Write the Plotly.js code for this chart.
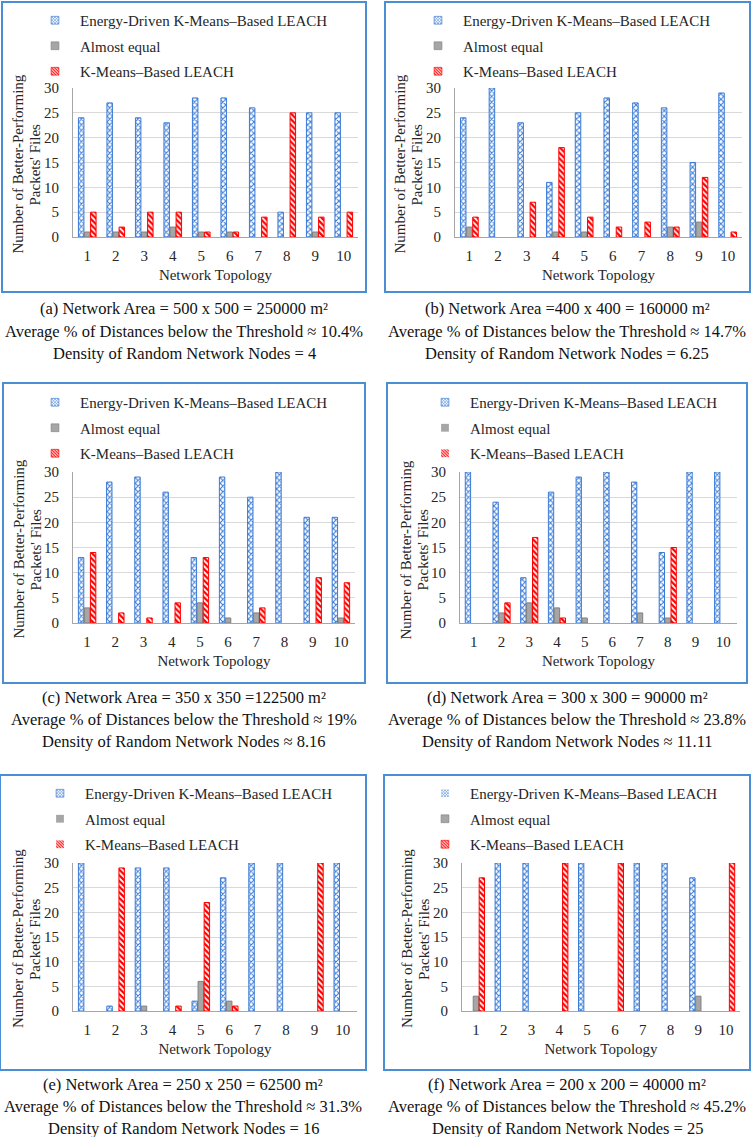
<!DOCTYPE html>
<html>
<head>
<meta charset="utf-8">
<script src="https://cdn.plot.ly/plotly-3.0.1.min.js"></script>
<style>
  html, body { margin: 0; padding: 0; background: #ffffff; }
  #chart { width: 751px; height: 1137px; }
</style>
</head>
<body>
<div id="chart"></div>
<script>
// Network topologies on the x axis and the three outcome series
const topologies = ['1', '2', '3', '4', '5', '6', '7', '8', '9', '10'];
const seriesNames = ['Energy-Driven K-Means–Based LEACH', 'Almost equal', 'K-Means–Based LEACH'];

// (a) 500 x 500
const energyA = [24, 27, 24, 23, 28, 28, 26, 5, 25, 25];
const equalA  = [1, 1, 1, 2, 1, 1, 0, 0, 1, 0];
const kmeansA = [5, 2, 5, 5, 1, 1, 4, 25, 4, 5];
const captionA = ['(a) Network Area = 500 x 500 = 250000 m²',
                  'Average % of Distances below the Threshold ≈ 10.4%',
                  'Density of Random Network Nodes = 4'];

// (b) 400 x 400
const energyB = [24, 30, 23, 11, 25, 28, 27, 26, 15, 29];
const equalB  = [2, 0, 0, 1, 1, 0, 0, 2, 3, 0];
const kmeansB = [4, 0, 7, 18, 4, 2, 3, 2, 12, 1];
const captionB = ['(b) Network Area =400 x 400 = 160000 m²',
                  'Average % of Distances below the Threshold ≈ 14.7%',
                  'Density of Random Network Nodes = 6.25'];

// (c) 350 x 350
const energyC = [13, 28, 29, 26, 13, 29, 25, 30, 21, 21];
const equalC  = [3, 0, 0, 0, 4, 1, 2, 0, 0, 1];
const kmeansC = [14, 2, 1, 4, 13, 0, 3, 0, 9, 8];
const captionC = ['(c) Network Area = 350 x 350 =122500 m²',
                  'Average % of Distances below the Threshold ≈ 19%',
                  'Density of Random Network Nodes ≈ 8.16'];

// (d) 300 x 300
const energyD = [30, 24, 9, 26, 29, 30, 28, 14, 30, 30];
const equalD  = [0, 2, 4, 3, 1, 0, 2, 1, 0, 0];
const kmeansD = [0, 4, 17, 1, 0, 0, 0, 15, 0, 0];
const captionD = ['(d) Network Area = 300 x 300 = 90000 m²',
                  'Average % of Distances below the Threshold ≈ 23.8%',
                  'Density of Random Network Nodes ≈ 11.11'];

// (e) 250 x 250
const energyE = [30, 1, 29, 29, 2, 27, 30, 30, 0, 30];
const equalE  = [0, 0, 1, 0, 6, 2, 0, 0, 0, 0];
const kmeansE = [0, 29, 0, 1, 22, 1, 0, 0, 30, 0];
const captionE = ['(e) Network Area = 250 x 250 = 62500 m²',
                  'Average % of Distances below the Threshold ≈ 31.3%',
                  'Density of Random Network Nodes = 16'];

// (f) 200 x 200
const energyF = [0, 30, 30, 0, 30, 0, 30, 30, 27, 0];
const equalF  = [3, 0, 0, 0, 0, 0, 0, 0, 3, 0];
const kmeansF = [27, 0, 0, 30, 0, 30, 0, 0, 0, 30];
const captionF = ['(f) Network Area = 200 x 200 = 40000 m²',
                  'Average % of Distances below the Threshold ≈ 45.2%',
                  'Density of Random Network Nodes = 25'];

const yTitleLines = ['Number of Better-Performing', 'Packets\' Files'];
const xTitle = 'Network Topology';

// Page geometry in pixels
const W = 751, H = 1137;
const px = v => v / W;
const py = v => 1 - v / H;

const panels = [
  { series: [energyA, equalA, kmeansA], caption: captionA,
    box: [2, 2, 366, 292], plot: [73, 88, 358, 237], legendX: 80, legendY: 20, capX: 184, capY: 309 },
  { series: [energyB, equalB, kmeansB], caption: captionB,
    box: [385, 2, 750, 292], plot: [455, 88, 742, 237], legendX: 463, legendY: 20, capX: 567, capY: 309 },
  { series: [energyC, equalC, kmeansC], caption: captionC,
    box: [3, 383, 365, 683], plot: [73, 472, 355, 623], legendX: 80, legendY: 402, capX: 184, capY: 697 },
  { series: [energyD, equalD, kmeansD], caption: captionD,
    box: [387, 383, 747, 683], plot: [460, 472, 737, 623], legendX: 470, legendY: 402, capX: 567, capY: 697 },
  { series: [energyE, equalE, kmeansE], caption: captionE,
    box: [0, 775, 366, 1070], plot: [73, 863, 357, 1011], legendX: 85, legendY: 793, capX: 183, capY: 1084 },
  { series: [energyF, equalF, kmeansF], caption: captionF,
    box: [384, 775, 750, 1070], plot: [462, 863, 740, 1011], legendX: 470, legendY: 793, capX: 567, capY: 1084 }
];

const SERIF = '"Liberation Serif", "Times New Roman", Times, serif';
const BLUE = '#3a7bd5', RED = '#ff0000', GRAY = '#a6a6a6';

// Bar styles; outlines are dropped on empty bars so nothing shows at zero
function markerStyle(k, vals) {
  const lw = vals.map(v => (v > 0 ? 1 : 0));
  if (k === 0) {
    return { color: '#ffffff', line: { color: BLUE, width: lw },
      pattern: { shape: 'x', fgcolor: BLUE, bgcolor: '#ffffff', size: 4, solidity: 0.45 } };
  }
  if (k === 1) {
    return { color: GRAY, line: { color: '#808080', width: lw } };
  }
  return { color: '#ffffff', line: { color: RED, width: lw },
    pattern: { shape: '\\', fgcolor: RED, bgcolor: '#ffffff', size: 4, solidity: 0.55 } };
}

const data = [];
const shapes = [];
const annotations = [];
const layout = {
  width: W, height: H,
  margin: { l: 0, r: 0, t: 0, b: 0 },
  paper_bgcolor: '#ffffff', plot_bgcolor: '#ffffff',
  font: { family: SERIF, size: 15, color: '#262626' },
  barmode: 'group', bargap: 0.36, bargroupgap: 0.1,
  showlegend: true,
  shapes: shapes, annotations: annotations
};

panels.forEach((p, i) => {
  const n = i === 0 ? '' : String(i + 1);
  const xa = 'x' + n, ya = 'y' + n, lg = 'legend' + n;

  p.series.forEach((vals, k) => {
    data.push({
      type: 'bar', x: topologies, y: vals, name: seriesNames[k],
      xaxis: xa, yaxis: ya, legend: lg, legendgroup: lg + '-' + k,
      marker: markerStyle(k, vals), cliponaxis: false, hoverinfo: 'skip'
    });
  });

  layout['xaxis' + n] = {
    domain: [px(p.plot[0]), px(p.plot[2])], anchor: ya, type: 'category',
    showgrid: false, showline: true, linecolor: '#a6a6a6', linewidth: 1,
    ticks: '', ticklabelstandoff: 5, tickfont: { family: SERIF, size: 15 },
    title: { text: xTitle, font: { family: SERIF, size: 15 }, standoff: 6 }
  };
  layout['yaxis' + n] = {
    domain: [py(p.plot[3]), py(p.plot[1])], anchor: xa,
    range: [0, 30], tick0: 0, dtick: 5,
    showgrid: true, gridcolor: '#d9d9d9', gridwidth: 1,
    showline: true, linecolor: '#a6a6a6', linewidth: 1, zeroline: false,
    ticks: '', ticklabelstandoff: 10, tickfont: { family: SERIF, size: 15 }
  };
  layout[lg] = {
    x: px(p.legendX - 40), xanchor: 'left',
    y: py(p.legendY - 16), yanchor: 'top',
    bgcolor: 'rgba(0,0,0,0)', borderwidth: 0,
    font: { family: SERIF, size: 15, color: '#262626' },
    traceorder: 'grouped', tracegroupgap: 3
  };

  // Vertical axis title: two rotated lines to the left of the tick labels
  const midY = (p.plot[1] + p.plot[3]) / 2 + 2;
  yTitleLines.forEach((t, j) => {
    annotations.push({
      xref: 'paper', yref: 'paper',
      x: px(p.plot[0] - 55 + j * 17), y: py(midY),
      xanchor: 'center', yanchor: 'middle', textangle: -90, showarrow: false,
      text: t, font: { family: SERIF, size: 15, color: '#262626' }
    });
  });

  shapes.push({
    type: 'rect', xref: 'paper', yref: 'paper', layer: 'below',
    x0: px(p.box[0]), x1: px(p.box[2]), y0: py(p.box[3]), y1: py(p.box[1]),
    line: { color: '#4a8fd6', width: 2 }, fillcolor: 'rgba(0,0,0,0)'
  });

  p.caption.forEach((t, j) => {
    annotations.push({
      xref: 'paper', yref: 'paper', x: px(p.capX), y: py(p.capY + j * 22),
      xanchor: 'center', yanchor: 'middle', showarrow: false, text: t,
      font: { family: SERIF, size: 16.5, color: '#111111' }
    });
  });
});

Plotly.newPlot('chart', data, layout, { staticPlot: true, displayModeBar: false }).then(gd => {
  // Smaller legend keys sitting right next to their labels, in every panel's legend
  gd.querySelectorAll('.legendpoints path').forEach(el => {
    el.setAttribute('transform', 'translate(15,0) scale(0.65)');
  });
});
</script>
</body>
</html>
